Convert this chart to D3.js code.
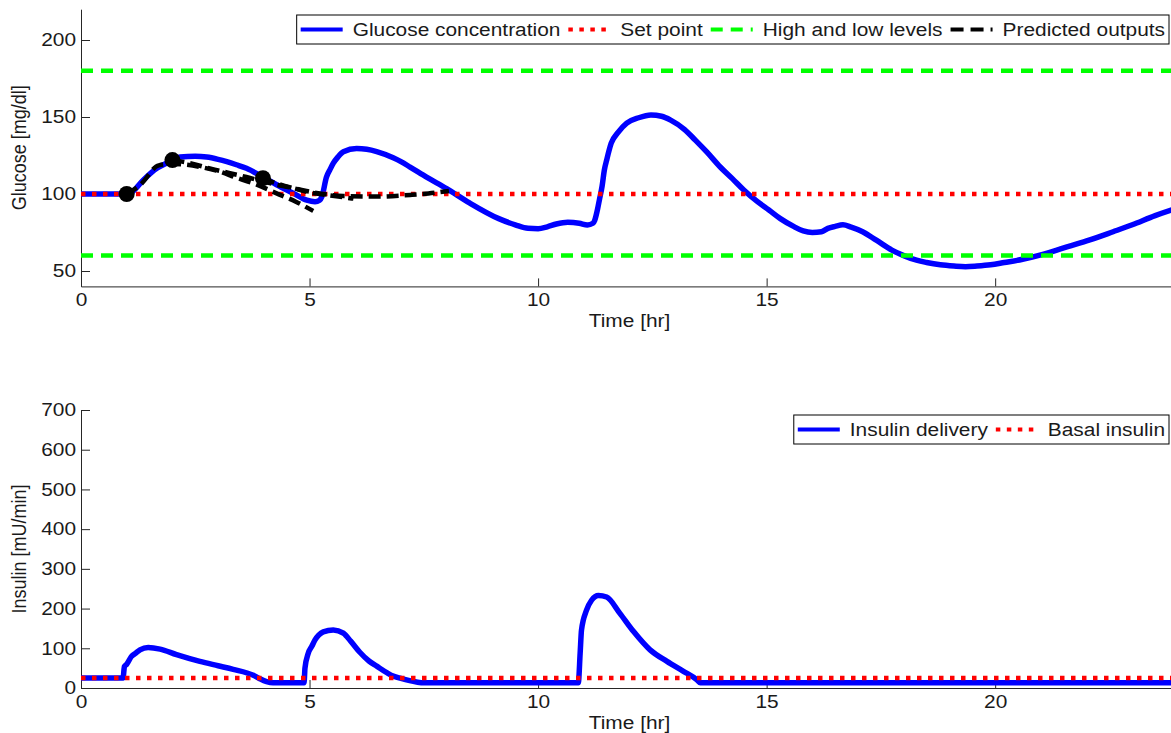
<!DOCTYPE html>
<html>
<head>
<meta charset="utf-8">
<script src="https://cdn.jsdelivr.net/npm/d3@7"></script>
<style>
body { margin: 0; background: #fff; }
svg { display: block; }
text { font-family: "Liberation Sans", Arial, sans-serif; font-size: 18px; fill: #1a1a1a; }
</style>
</head>
<body>
<svg id="chart" width="1171" height="733"></svg>
<script>
// ---- data (time in hours) ----
var glucoseTime = [0, 0.5, 1.0, 1.1, 1.36, 1.66, 1.9, 2.17, 2.5, 2.75, 3.0, 3.19, 3.4, 3.62, 3.95, 4.28, 4.65, 4.94, 5.12, 5.22, 5.27, 5.37, 5.45, 5.52, 5.62, 5.74, 6.03, 6.25, 6.47, 6.83, 7.0, 7.2, 7.56, 8.0, 8.5, 9.14, 9.5, 9.78, 10.0, 10.2, 10.4, 10.65, 10.9, 11.08, 11.2, 11.24, 11.3, 11.34, 11.4, 11.45, 11.5, 11.6, 11.75, 11.94, 12.2, 12.47, 12.7, 12.9, 13.2, 13.44, 13.7, 13.98, 14.25, 14.5, 14.8, 15.05, 15.3, 15.6, 15.8, 16.0, 16.2, 16.34, 16.5, 16.67, 16.85, 17.1, 17.4, 17.74, 18.0, 18.28, 18.5, 18.8, 19.1, 19.35, 19.6, 19.9, 20.2, 20.6, 21.0, 21.5, 22.0, 22.58, 23.0, 23.5, 23.85, 24];
var glucoseValue = [100, 100, 100, 101, 109, 116.7, 120.5, 124, 124.5, 124, 122.5, 121, 119, 116.7, 111.5, 106, 100.4, 96, 95, 96, 98.3, 111, 116, 120, 124, 127.5, 129.5, 129, 127.5, 123.5, 121, 117.5, 111, 103.5, 94.2, 84, 80, 77.7, 77.5, 78.7, 80.5, 81.6, 81, 79.9, 81, 83, 90, 96, 105, 115.6, 122, 133, 140, 146, 149.5, 151.3, 150.5, 148, 142, 135, 127, 117.7, 110, 102.6, 95, 89.6, 84, 78.8, 76, 75, 75.5, 77.7, 79, 80, 78.5, 75.5, 70, 63.6, 60, 57, 55.5, 54, 53.2, 52.8, 53.2, 54, 55.5, 57.6, 60.5, 65, 69.5, 75.5, 80, 86, 89.6, 91];

// predicted outputs from the three sample points
var pred1Time = [1.0, 1.3, 1.7, 2.0, 2.31, 2.7, 3.04, 3.4, 3.77, 4.28, 4.7, 5.08];
var pred1Value = [100, 106, 118.6, 119.5, 119, 117, 114.5, 110.5, 107, 100.4, 95, 89];
var pred2Time = [2.0, 2.3, 2.9, 3.62, 4.2, 4.65, 5.0, 5.37, 5.96];
var pred2Value = [122, 120.5, 116, 111, 106.5, 103.7, 101, 99.4, 97];
var pred3Time = [3.98, 4.28, 5.01, 5.74, 6.47, 7.2, 7.6, 8.05];
var pred3Value = [110.2, 106.9, 101.5, 98.7, 98.3, 99.4, 100.3, 102];
var sampleTime = [1.0, 2.0, 3.98];
var sampleValue = [100, 122, 110.3];

var setPoint = 100;
var glucoseLimits = [60, 180];

var insulinTime = [0, 0.92, 0.95, 1.0, 1.1, 1.2, 1.29, 1.47, 1.73, 2.09, 2.6, 3.0, 3.33, 3.77, 3.9, 4.06, 4.2, 4.88, 4.9, 4.97, 5.05, 5.12, 5.2, 5.3, 5.52, 5.74, 5.9, 6.1, 6.3, 6.47, 6.7, 6.83, 7.0, 7.34, 7.5, 10.88, 10.92, 10.95, 11.06, 11.17, 11.32, 11.5, 11.79, 12.09, 12.45, 12.82, 13.18, 13.47, 13.55, 24];
var insulinValue = [25, 25, 54, 60, 79, 88, 96, 102, 98, 84, 67, 56, 47, 32, 24, 16, 13, 13, 50, 87, 105, 121, 133, 141.5, 146, 138, 118, 90, 68, 55, 38, 30, 24, 15, 13, 13, 87, 146, 196, 221, 233, 229, 188, 142, 96, 67, 42, 21, 13, 13];
var basalInsulin = 25;

var xTicks = [0, 5, 10, 15, 20];
var glucoseTicks = [50, 100, 150, 200];
var insulinTicks = [0, 100, 200, 300, 400, 500, 600, 700];

var SX = 1.16; // the figure text is a bit stretched sideways

function zip(t, v) {
    return t.map(function (d, i) { return {t: d, v: v[i]}; });
}

var svg = d3.select("#chart");

var x = d3.scaleLinear().domain([0, 24]).range([81, 1178]);
var yG = d3.scaleLinear().domain([40, 220]).range([286.4, 9.2]);
var yI = d3.scaleLinear().domain([0, 700]).range([688, 410]);

function drawAxes(y, ticks, label) {
    var y0 = y.range()[0];
    var y1 = y.range()[1];
    var gx = svg.append("g")
        .attr("transform", "translate(0," + y0 + ")")
        .call(d3.axisBottom(x).tickValues(xTicks).tickSizeInner(-8).tickSizeOuter(0).tickPadding(7));
    var gy = svg.append("g")
        .attr("transform", "translate(81,0)")
        .call(d3.axisLeft(y).tickValues(ticks).tickSizeInner(-9).tickSizeOuter(0).tickPadding(5));
    [gx, gy].forEach(function (g) {
        g.attr("font-size", null).attr("font-family", null);
        g.selectAll("path, line").attr("stroke", "#262626");
        g.selectAll("text").attr("fill", "#1a1a1a").each(function () {
            var t = d3.select(this);
            var tx = +t.attr("x") || 0, ty = +t.attr("y") || 0;
            t.attr("x", 0).attr("y", 0)
             .attr("transform", "translate(" + tx + "," + ty + ") scale(" + SX + ",1)");
        });
    });
    svg.append("text")
        .attr("text-anchor", "middle")
        .attr("transform", "translate(" + (x(0) + x(24)) / 2 + "," + (y0 + 41) + ") scale(" + SX + ",1)")
        .text("Time [hr]");
    svg.append("text")
        .attr("text-anchor", "middle")
        .attr("transform", "translate(26," + (y0 + y1) / 2 + ") rotate(-90) scale(1," + SX + ")")
        .text(label);
}

function clipFor(id, y) {
    svg.append("clipPath").attr("id", id).append("rect")
        .attr("x", x(0)).attr("y", y.range()[1])
        .attr("width", x(24) - x(0)).attr("height", y.range()[0] - y.range()[1]);
    return svg.append("g").attr("clip-path", "url(#" + id + ")");
}

function legend(items, right, ytop) {
    var lg = svg.append("g");
    var box = lg.append("rect").attr("fill", "#fff").attr("stroke", "#000").attr("stroke-width", 1);
    var cx = 4;
    items.forEach(function (it) {
        lg.append("line")
            .attr("x1", cx).attr("x2", cx + 42).attr("y1", 14.5).attr("y2", 14.5)
            .attr("stroke", it.color).attr("stroke-width", it.width)
            .attr("stroke-dasharray", it.dash);
        var t = lg.append("text")
            .attr("transform", "translate(" + (cx + 52) + ",21) scale(" + SX + ",1)")
            .text(it.name);
        cx = cx + 52 + t.node().getComputedTextLength() * SX + 8;
    });
    var w = cx - 4;
    box.attr("x", 0).attr("y", 0).attr("width", w).attr("height", 29);
    lg.attr("transform", "translate(" + (right - w) + "," + ytop + ")");
}

var blueLine = {color: "#0000ff", width: 5.5, dash: null};
var redDots = {color: "#ff0000", width: 4.5, dash: "4.5,6.5"};
var greenDash = {color: "#00ff00", width: 4.5, dash: "12,8"};
var blackDash = {color: "#000000", width: 4.5, dash: "12,6"};

// ---------- top panel : glucose ----------
drawAxes(yG, glucoseTicks, "Glucose [mg/dl]");
var glucosePanel = clipFor("clipTop", yG);
var lineG = d3.line().x(function (d) { return x(d.t); }).y(function (d) { return yG(d.v); })
    .curve(d3.curveMonotoneX);

glucosePanel.append("path").datum(zip(glucoseTime, glucoseValue))
    .attr("d", lineG).attr("fill", "none")
    .attr("stroke", blueLine.color).attr("stroke-width", blueLine.width).attr("stroke-linejoin", "round");

glucosePanel.append("line")
    .attr("x1", x(0)).attr("x2", x(24)).attr("y1", yG(setPoint)).attr("y2", yG(setPoint))
    .attr("stroke", redDots.color).attr("stroke-width", redDots.width).attr("stroke-dasharray", redDots.dash);

glucosePanel.selectAll(".lim").data(glucoseLimits).enter().append("line")
    .attr("x1", x(0)).attr("x2", x(24))
    .attr("y1", function (d) { return yG(d); }).attr("y2", function (d) { return yG(d); })
    .attr("stroke", greenDash.color).attr("stroke-width", greenDash.width).attr("stroke-dasharray", greenDash.dash);

var preds = [zip(pred1Time, pred1Value), zip(pred2Time, pred2Value), zip(pred3Time, pred3Value)];
glucosePanel.selectAll(".pred").data(preds).enter().append("path")
    .attr("d", lineG).attr("fill", "none")
    .attr("stroke", blackDash.color).attr("stroke-width", blackDash.width)
    .attr("stroke-dasharray", blackDash.dash);

glucosePanel.selectAll(".dot").data(zip(sampleTime, sampleValue)).enter().append("circle")
    .attr("cx", function (d) { return x(d.t); })
    .attr("cy", function (d) { return yG(d.v); })
    .attr("r", 8).attr("fill", "#000");

legend([
    {name: "Glucose concentration", color: blueLine.color, width: 4, dash: null},
    {name: "Set point", color: redDots.color, width: 4, dash: redDots.dash},
    {name: "High and low levels", color: greenDash.color, width: 4, dash: greenDash.dash},
    {name: "Predicted outputs", color: blackDash.color, width: 4, dash: "13,7"}
], 1169, 15);

// ---------- bottom panel : insulin ----------
drawAxes(yI, insulinTicks, "Insulin [mU/min]");
var insulinPanel = clipFor("clipBot", yI);
var lineI = d3.line().x(function (d) { return x(d.t); }).y(function (d) { return yI(d.v); })
    .curve(d3.curveMonotoneX);

insulinPanel.append("path").datum(zip(insulinTime, insulinValue))
    .attr("d", lineI).attr("fill", "none")
    .attr("stroke", blueLine.color).attr("stroke-width", blueLine.width).attr("stroke-linejoin", "round");

insulinPanel.append("line")
    .attr("x1", x(0)).attr("x2", x(24)).attr("y1", yI(basalInsulin)).attr("y2", yI(basalInsulin))
    .attr("stroke", redDots.color).attr("stroke-width", redDots.width).attr("stroke-dasharray", redDots.dash);

legend([
    {name: "Insulin delivery", color: blueLine.color, width: 4, dash: null},
    {name: "Basal insulin", color: redDots.color, width: 4, dash: redDots.dash}
], 1169, 415);
</script>
</body>
</html>
